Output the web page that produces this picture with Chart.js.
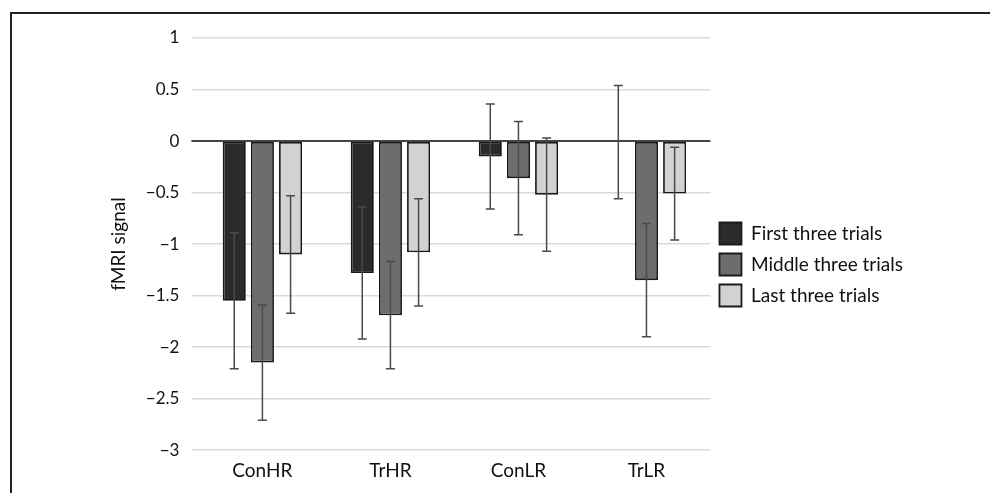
<!DOCTYPE html>
<html>
<head>
    <title>fMRI signal by trial block</title>
    <script src="https://cdn.jsdelivr.net/npm/chart.js"></script>
    <style>
        html, body {
            margin: 0;
            padding: 0;
            background-color: white;
            overflow: hidden;
        }
        .frame {
            position: absolute;
            left: 10px;
            top: 12px;
            width: 1000px;
            height: 500px;
            border-top: 2px solid #231f20;
            border-left: 2px solid #231f20;
        }
        #fmriChart {
            position: absolute;
            left: 0;
            top: 0;
        }
    </style>
</head>
<body>
    <div class="frame"></div>
    <canvas id="fmriChart" width="990" height="493"></canvas>

    <script>
        // Data
        const categories = ['ConHR', 'TrHR', 'ConLR', 'TrLR'];
        const seriesNames = ['First three trials', 'Middle three trials', 'Last three trials'];
        const firstTrials = [-1.55, -1.28, -0.15, -0.01];
        const middleTrials = [-2.15, -1.69, -0.36, -1.35];
        const lastTrials = [-1.10, -1.08, -0.52, -0.51];
        const firstErr = [0.66, 0.64, 0.51, 0.55];
        const middleErr = [0.56, 0.52, 0.55, 0.55];
        const lastErr = [0.57, 0.52, 0.55, 0.45];
        const yTicks = [1, 0.5, 0, -0.5, -1, -1.5, -2, -2.5, -3];

        const fills = ['#2b2b2b', '#6d6d6d', '#d2d2d2'];
        const FONT = 'Lato, "Open Sans", sans-serif';

        // draws the +/- error whiskers for every bar
        const errorBars = {
            id: 'errorBars',
            afterDatasetsDraw(chart) {
                const ctx = chart.ctx;
                const y = chart.scales.y;
                ctx.save();
                ctx.strokeStyle = '#4a4a4a';
                ctx.lineWidth = 1.5;
                chart.data.datasets.forEach((ds, i) => {
                    const meta = chart.getDatasetMeta(i);
                    meta.data.forEach((bar, j) => {
                        const v = ds.data[j];
                        const e = ds.errors[j];
                        const top = y.getPixelForValue(v + e);
                        const bot = y.getPixelForValue(v - e);
                        ctx.beginPath();
                        ctx.moveTo(bar.x, top);
                        ctx.lineTo(bar.x, bot);
                        ctx.moveTo(bar.x - 4.5, top);
                        ctx.lineTo(bar.x + 4.5, top);
                        ctx.moveTo(bar.x - 4.5, bot);
                        ctx.lineTo(bar.x + 4.5, bot);
                        ctx.stroke();
                    });
                });
                ctx.restore();
            }
        };

        const values = [firstTrials, middleTrials, lastTrials];
        const errs = [firstErr, middleErr, lastErr];

        const ctx = document.getElementById('fmriChart').getContext('2d');
        const chart = new Chart(ctx, {
            type: 'bar',
            data: {
                labels: categories,
                datasets: seriesNames.map((name, i) => ({
                    label: name,
                    data: values[i],
                    errors: errs[i],
                    backgroundColor: fills[i],
                    borderColor: '#1a1a1a',
                    borderWidth: 1.8,
                    borderSkipped: false,
                    categoryPercentage: 0.66,
                    barPercentage: 0.82
                }))
            },
            plugins: [errorBars],
            options: {
                responsive: false,
                animation: false,
                devicePixelRatio: 1,
                layout: {
                    padding: { top: 38, left: 100, right: 77, bottom: 2 }
                },
                plugins: {
                    tooltip: { enabled: false },
                    legend: {
                        position: 'right',
                        align: 'center',
                        labels: {
                            font: { family: FONT, size: 19 },
                            color: '#111',
                            boxWidth: 22,
                            boxHeight: 22,
                            padding: 9
                        }
                    }
                },
                scales: {
                    x: {
                        grid: { display: false, drawTicks: false },
                        border: { display: false },
                        ticks: {
                            font: { family: FONT, size: 19 },
                            color: '#111',
                            padding: 9
                        }
                    },
                    y: {
                        min: -3,
                        max: 1,
                        afterBuildTicks(axis) {
                            axis.ticks = yTicks.map(v => ({ value: v }));
                        },
                        grid: {
                            color: ctx => ctx.tick && ctx.tick.value === 0 ? '#444' : '#d9d9d9',
                            lineWidth: ctx => ctx.tick && ctx.tick.value === 0 ? 2 : 1.5,
                            tickLength: 7
                        },
                        border: { display: false },
                        ticks: {
                            font: { family: FONT, size: 17 },
                            color: '#111',
                            padding: 12,
                            callback: v => String(v).replace('-', '\u2212')
                        },
                        title: {
                            display: true,
                            text: 'fMRI signal',
                            font: { family: FONT, size: 19 },
                            color: '#111',
                            padding: { top: 7, bottom: 4 }
                        }
                    }
                }
            }
        });
    </script>
</body>
</html>
